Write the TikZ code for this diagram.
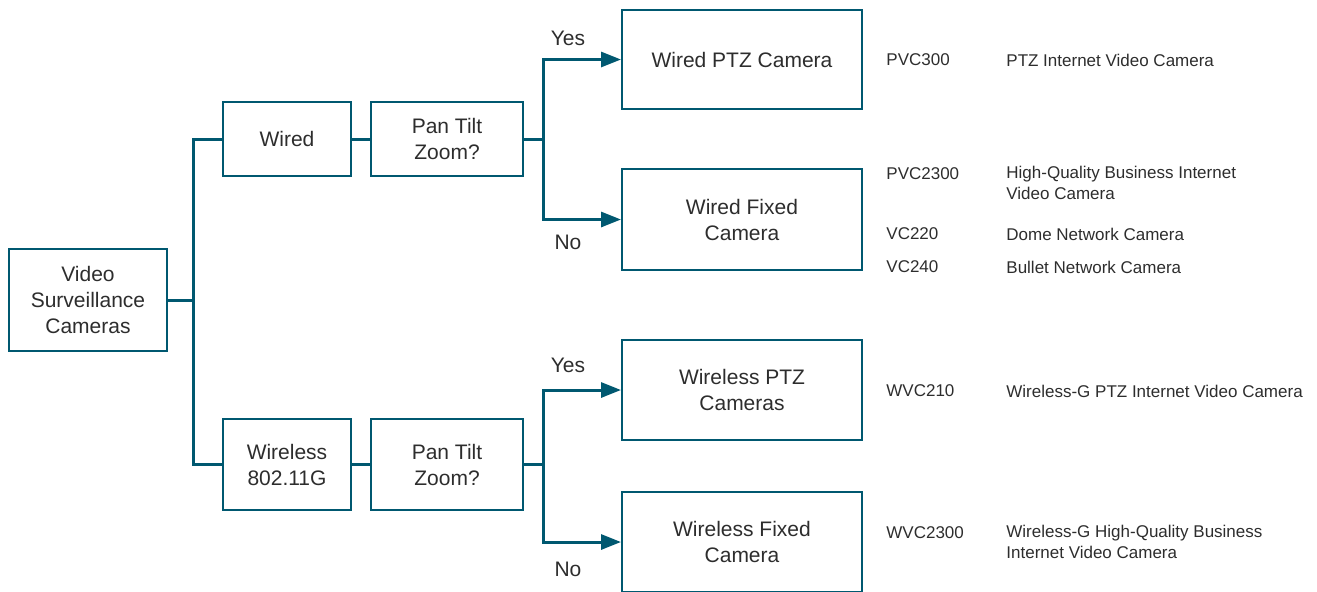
\documentclass[tikz,border=0pt]{standalone}
\usepackage{fontspec}
\setmainfont{Liberation Sans}
\usepackage{tikz}
\usetikzlibrary{arrows.meta}

\definecolor{teal}{RGB}{0,88,112}
\definecolor{txt}{RGB}{45,45,45}

\begin{document}
\begin{tikzpicture}[x=0.5pt,y=-0.5pt,
    box/.style={draw=teal,line width=1pt,align=center,text=txt,font=\fontsize{10.5}{13}\selectfont,inner sep=0pt},
    line/.style={draw=teal,line width=1.5pt},
    arr/.style={line,-{Triangle[length=10pt,width=7.5pt]}},
    lbl/.style={text=txt,font=\fontsize{10.5}{13}\selectfont},
    info/.style={text=txt,anchor=west,align=left,font=\fontsize{8.5}{10.5}\selectfont,inner sep=0pt}]
    \useasboundingbox (0,0) rectangle (1317,591);

    \node[box,minimum width=79pt,minimum height=51pt] (vsc) at (88,300) {Video\\Surveillance\\Cameras};
    \node[box,minimum width=64pt,minimum height=37pt] (wired) at (287,139) {Wired};
    \node[box,minimum width=76pt,minimum height=37pt] (ptza) at (447,139) {Pan Tilt\\Zoom?};
    \node[box,minimum width=64pt,minimum height=45.5pt] (wless) at (287,464.5) {Wireless\\802.11G};
    \node[box,minimum width=76pt,minimum height=45.5pt] (ptzb) at (447,464.5) {Pan Tilt\\Zoom?};

    \node[box,minimum width=120pt,minimum height=49.5pt] (wptz) at (742,59.5) {Wired PTZ Camera};
    \node[box,minimum width=120pt,minimum height=50.5pt] (wfix) at (742,219.5) {Wired Fixed\\Camera};
    \node[box,minimum width=120pt,minimum height=50pt] (lptz) at (742,390) {Wireless PTZ\\Cameras};
    \node[box,minimum width=120pt,minimum height=50pt] (lfix) at (742,542) {Wireless Fixed\\Camera};

    \coordinate (j0) at (193,300);
    \coordinate (ja) at (543,139);
    \coordinate (jb) at (543,464.5);

    \draw[line] (vsc) -- (j0);
    \draw[line] (j0) |- (wired);
    \draw[line] (j0) |- (wless);
    \draw[line] (wired) -- (ptza);
    \draw[line] (wless) -- (ptzb);
    \draw[line] (ptza) -- (ja);
    \draw[line] (ptzb) -- (jb);
    \draw[arr] (ja) |- (wptz);
    \draw[arr] (ja) |- (wfix);
    \draw[arr] (jb) |- (lptz);
    \draw[arr] (jb) |- (lfix);

    \node[lbl] (yesa) at (568,38) {Yes};
    \node[lbl] (noa) at (568,242) {No};
    \node[lbl] (yesb) at (568,365) {Yes};
    \node[lbl] (nob) at (568,569) {No};

    % models and descriptions
    \node[info] (m1) at (886,60) {PVC300};
    \node[info] (d1) at (1006,60) {PTZ Internet Video Camera};
    \node[info] (m2) at (886,174) {PVC2300};
    \node[info,anchor=north west] (d2) at (1006,166) {High-Quality Business Internet\\Video Camera};
    \node[info] (m3) at (886,234) {VC220};
    \node[info] (d3) at (1006,234) {Dome Network Camera};
    \node[info] (m4) at (886,267) {VC240};
    \node[info] (d4) at (1006,267) {Bullet Network Camera};
    \node[info] (m5) at (886,391) {WVC210};
    \node[info] (d5) at (1006,391) {Wireless-G PTZ Internet Video Camera};
    \node[info] (m6) at (886,533) {WVC2300};
    \node[info,anchor=north west] (d6) at (1006,525) {Wireless-G High-Quality Business\\Internet Video Camera};
\end{tikzpicture}
\end{document}
